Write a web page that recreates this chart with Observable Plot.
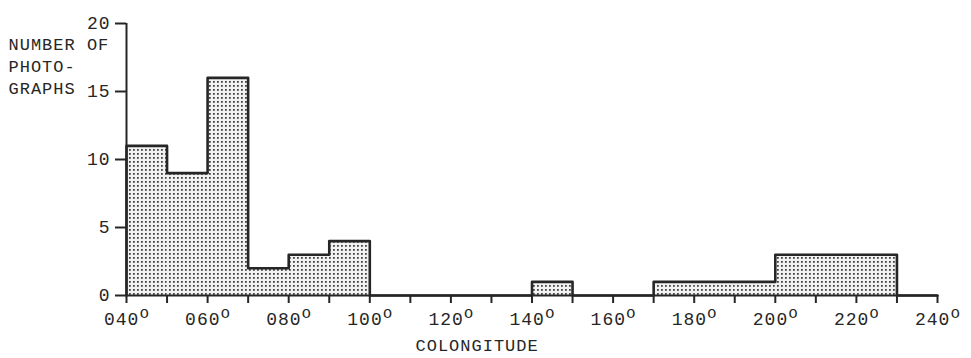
<!DOCTYPE html>
<html><head><meta charset="utf-8">
<script src="https://cdn.jsdelivr.net/npm/d3@7"></script>
<script src="https://cdn.jsdelivr.net/npm/@observablehq/plot@0.6"></script>
<style>
body{margin:0;background:#fff}
svg{display:block}
svg text{letter-spacing:1px}
</style>
</head><body><div id="chart"></div>
<script>
// Histogram bins (colongitude, degrees) and number of photographs
const binStarts = [40,50,60,70,80,90,100,110,120,130,140,150,160,170,180,190,200,210,220,230];
const binEnds   = [50,60,70,80,90,100,110,120,130,140,150,160,170,180,190,200,210,220,230,240];
const counts    = [11,9,16,2,3,4,0,0,0,0,1,0,0,1,1,1,3,3,3,0];
const xTicks = [40,50,60,70,80,90,100,110,120,130,140,150,160,170,180,190,200,210,220,230,240];
const xLabelValues = [40,60,80,100,120,140,160,180,200,220,240];
const xTickLabels = ["040","060","080","100","120","140","160","180","200","220","240"];
const yTicks = [0,5,10,15,20];
const yTitle = "NUMBER OF\nPHOTO-\nGRAPHS";
const xTitle = "COLONGITUDE";

const bins = binStarts.map((s,i) => ({x1: s, x2: binEnds[i], count: counts[i]}));
const outline = [{x: binStarts[0], y: 0}]
  .concat(binStarts.map((s,i) => ({x: s, y: counts[i]})))
  .concat([{x: binEnds[binEnds.length-1], y: 0}]);
const labelFor = d => { const i = xLabelValues.indexOf(d); return i >= 0 ? xTickLabels[i] : ""; };

const ink = "#262626";
const plot = Plot.plot({
  width: 971, height: 358,
  marginLeft: 126, marginRight: 34, marginTop: 23, marginBottom: 63,
  style: {fontFamily: "'Liberation Mono', monospace", color: ink, background: "#fff", overflow: "visible"},
  x: {domain: [40, 240], label: null},
  y: {domain: [0, 20], label: null},
  marks: [
    Plot.rectY(bins, {x1: "x1", x2: "x2", y1: 0, y2: "count", fill: "url(#dots)"}),
    Plot.line(outline, {x: "x", y: "y", curve: "step-after", stroke: ink, strokeWidth: 2.6}),
    Plot.ruleY([0], {stroke: ink, strokeWidth: 2}),
    Plot.ruleX([40], {stroke: ink, strokeWidth: 2}),
    Plot.axisX({ticks: xTicks, tickSize: 8, tickPadding: 9, stroke: ink, strokeWidth: 2, tickFormat: labelFor, fontSize: 18, label: null}),
    Plot.axisY({ticks: yTicks, tickSize: 11, tickPadding: 5, stroke: ink, strokeWidth: 2, fontSize: 18, label: null}),
    Plot.text([yTitle], {text: d => d, frameAnchor: "top-left", dx: -118, dy: 11, textAnchor: "start", lineAnchor: "top", fontSize: 17, lineHeight: 1.3, fill: ink}),
    Plot.text([xTitle], {text: d => d, frameAnchor: "bottom-left", dx: 289, dy: 50, textAnchor: "start", lineAnchor: "middle", fontSize: 17, fill: ink})
  ]
});

d3.select(plot).insert("defs", ":first-child").html(
  '<pattern id="dots" width="4" height="4" patternUnits="userSpaceOnUse">' +
  '<rect width="4" height="4" fill="#f2f2f2"/>' +
  '<rect x="1" y="1" width="1.8" height="1.8" fill="#454545"/></pattern>');

// raised degree mark on each x tick label
d3.select(plot).selectAll('g[aria-label="x-axis tick label"] text').each(function() {
  const t = d3.select(this);
  const s = t.text();
  if (!s) return;
  t.text(s);
  t.append("tspan").attr("dy", "-0.45em").attr("font-size", "16").attr("letter-spacing", "0").text("o");
});

document.getElementById("chart").appendChild(plot);
</script>
</body></html>
